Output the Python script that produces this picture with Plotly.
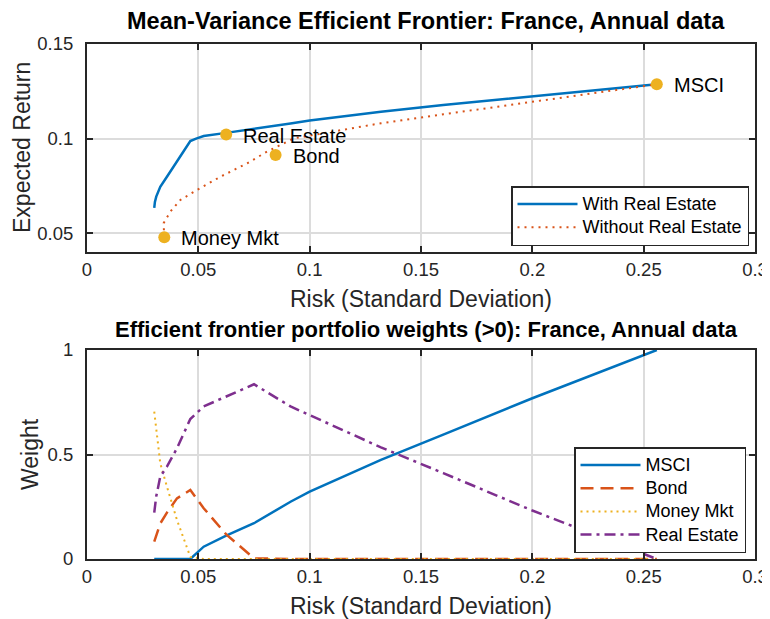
import plotly.graph_objects as go

# ---- Data ----
# Efficient frontier with real estate (risk, expected return)
frontier_risk = [0.0302, 0.0305, 0.0311, 0.0320, 0.0329, 0.0359, 0.0404, 0.0435, 0.0464,
                 0.0490, 0.0524, 0.0625, 0.075, 0.0914, 0.100, 0.132, 0.160, 0.200, 0.2559]
frontier_ret = [0.0633, 0.0665, 0.0693, 0.0722, 0.0745, 0.0798, 0.0878, 0.0932, 0.0987,
                0.1000, 0.1013, 0.1030, 0.1050, 0.1080, 0.1095, 0.1142, 0.1177, 0.1222, 0.1287]

# Portfolio weights along the frontier
weight_risk = [0.0302, 0.0311, 0.0329, 0.0359, 0.0404, 0.0464, 0.0524, 0.0625, 0.075,
               0.0914, 0.100, 0.132, 0.160, 0.200, 0.2559]
w_msci = [0.0, 0.0, 0.0, 0.0, 0.0, 0.0, 0.059, 0.112, 0.171, 0.274, 0.322, 0.474, 0.595, 0.769, 1.0]
w_bond = [0.083, 0.11, 0.17, 0.222, 0.29, 0.33, 0.243, 0.118, 0.003, 0.0, 0.0, 0.0, 0.0, 0.0, 0.0]
w_money = [0.705, 0.62, 0.458, 0.346, 0.187, 0.01, 0.0, 0.0, 0.0, 0.0, 0.0, 0.0, 0.0, 0.0, 0.0]
w_realestate = [0.222, 0.30, 0.394, 0.442, 0.53, 0.67, 0.73, 0.777, 0.836, 0.73, 0.689, 0.534, 0.411, 0.232, 0.0]

# Efficient frontier without real estate
risk_without = [0.0347, 0.0344, 0.0374, 0.0419, 0.0494, 0.0599, 0.0719, 0.0809, 0.0929,
                0.114, 0.132, 0.160, 0.200, 0.2559]
ret_without = [0.0478, 0.0552, 0.0613, 0.0675, 0.0728, 0.0798, 0.0869, 0.0931, 0.1001,
               0.1045, 0.1081, 0.1128, 0.1195, 0.1287]

# Individual assets
asset_names = ["Real Estate", "Bond", "Money Mkt", "MSCI"]
asset_risk = [0.0625, 0.0847, 0.0347, 0.2559]
asset_ret = [0.1021, 0.0913, 0.0478, 0.1287]

x_ticks = [0, 0.05, 0.1, 0.15, 0.2, 0.25, 0.3]
x_ticklabels = ["0", "0.05", "0.1", "0.15", "0.2", "0.25", "0.3"]
y1_ticks = [0.05, 0.1, 0.15]
y1_ticklabels = ["0.05", "0.1", "0.15"]
y2_ticks = [0, 0.5, 1]
y2_ticklabels = ["0", "0.5", "1"]

title_top = "Mean-Variance Efficient Frontier: France, Annual data"
title_bottom = "Efficient frontier portfolio weights (>0): France, Annual data"
xlabel = "Risk (Standard Deviation)"
ylabel_top = "Expected Return"
ylabel_bottom = "Weight"

# ---- Styles ----
BLUE = "#0072BD"
ORANGE = "#D95319"
YELLOW = "#EDB120"
PURPLE = "#7E2F8E"
AX = "#262626"
GRID = "#dcdcdc"
FONT = "Liberation Sans, Arial, Helvetica, sans-serif"


def leg(name):
    # legend rows are spaced by the legend font size; draw the text itself slightly larger
    return '<span style="font-size:18px">' + name + "</span>"


# The page body adds an 8px offset, so the figure is sized 8px smaller than the window
W, H = 762, 611

fig = go.Figure()

# Top plot
fig.add_trace(go.Scatter(x=frontier_risk, y=frontier_ret, mode="lines", name=leg("With Real Estate"),
                         line=dict(color=BLUE, width=2.5), xaxis="x", yaxis="y", legend="legend"))
fig.add_trace(go.Scatter(x=risk_without, y=ret_without, mode="lines", name=leg("Without Real Estate"),
                         line=dict(color=ORANGE, width=2, dash="2px,5px"), xaxis="x", yaxis="y",
                         legend="legend"))
fig.add_trace(go.Scatter(x=asset_risk, y=asset_ret, mode="markers", name="Assets",
                         marker=dict(color=YELLOW, size=12), showlegend=False,
                         xaxis="x", yaxis="y"))

# Bottom plot
fig.add_trace(go.Scatter(x=weight_risk, y=w_msci, mode="lines", name=leg("MSCI"),
                         line=dict(color=BLUE, width=2.5), xaxis="x2", yaxis="y2", legend="legend2"))
fig.add_trace(go.Scatter(x=weight_risk, y=w_bond, mode="lines", name=leg("Bond"),
                         line=dict(color=ORANGE, width=2.5, dash="13px,7px"), xaxis="x2", yaxis="y2",
                         legend="legend2"))
fig.add_trace(go.Scatter(x=weight_risk, y=w_money, mode="lines", name=leg("Money Mkt"),
                         line=dict(color=YELLOW, width=2, dash="2px,4px"), xaxis="x2", yaxis="y2",
                         legend="legend2"))
fig.add_trace(go.Scatter(x=weight_risk, y=w_realestate, mode="lines", name=leg("Real Estate"),
                         line=dict(color=PURPLE, width=2.5, dash="11px,5px,3px,5px"),
                         xaxis="x2", yaxis="y2", legend="legend2"))

axis_common = dict(showline=True, linecolor=AX, linewidth=2, mirror="allticks",
                   ticks="inside", ticklen=6, tickwidth=2, tickcolor=AX, automargin=False,
                   showgrid=True, gridcolor=GRID, gridwidth=1.5, zeroline=False,
                   tickfont=dict(family=FONT, size=18.5, color=AX))
title_font = dict(family=FONT, size=23, color=AX)

annotations = []
for name, xr, yr in zip(asset_names, asset_risk, asset_ret):
    annotations.append(dict(x=xr, y=yr, xref="x", yref="y", text=name, showarrow=False,
                            xanchor="left", yanchor="middle", xshift=15, yshift=-1,
                            font=dict(family=FONT, size=20, color="#000000")))
annotations.append(dict(x=0.5, y=1.0, xref="x domain", yref="y domain", text="<b>" + title_top + "</b>",
                        showarrow=False, xanchor="center", yanchor="bottom", yshift=8, xshift=5,
                        font=dict(family=FONT, size=23.5, color="#000000")))
annotations.append(dict(x=0.5, y=1.0, xref="x2 domain", yref="y2 domain", text="<b>" + title_bottom + "</b>",
                        showarrow=False, xanchor="center", yanchor="bottom", yshift=6, xshift=5,
                        font=dict(family=FONT, size=22, color="#000000")))
# y-axis titles
annotations.append(dict(x=14 / W, y=1 - 140 / H, xref="paper", yref="paper", text=ylabel_top,
                        textangle=-90, showarrow=False, xanchor="center", yanchor="middle",
                        font=title_font))
annotations.append(dict(x=22 / W, y=1 - 446 / H, xref="paper", yref="paper", text=ylabel_bottom,
                        textangle=-90, showarrow=False, xanchor="center", yanchor="middle",
                        font=title_font))

fig.update_layout(
    width=W, height=H,
    margin=dict(l=0, r=0, t=0, b=0),
    paper_bgcolor="white", plot_bgcolor="white",
    font=dict(family=FONT, color=AX),
    xaxis=dict(domain=[79 / W, 747 / W], range=[0, 0.3], tickvals=x_ticks, ticktext=x_ticklabels,
               anchor="y", title=dict(text=xlabel, font=title_font, standoff=12),
               **axis_common),
    yaxis=dict(domain=[1 - 244 / H, 1 - 36 / H], range=[0.04, 0.15], tickvals=y1_ticks,
               ticktext=y1_ticklabels, anchor="x", ticklabelstandoff=8,
               **axis_common),
    xaxis2=dict(domain=[79 / W, 747 / W], range=[0, 0.3], tickvals=x_ticks, ticktext=x_ticklabels,
                anchor="y2", title=dict(text=xlabel, font=title_font, standoff=12),
                **axis_common),
    yaxis2=dict(domain=[1 - 551 / H, 1 - 342 / H], range=[0, 1], tickvals=y2_ticks,
                ticktext=y2_ticklabels, anchor="x2", ticklabelstandoff=8,
                **axis_common),
    legend=dict(x=741 / W, y=1 - 208 / H, xanchor="right", yanchor="middle",
                bgcolor="white", bordercolor=AX, borderwidth=1.5,
                font=dict(family=FONT, size=15.5, color="#000000"), itemwidth=60,
                tracegroupgap=0),
    legend2=dict(x=738 / W, y=1 - 492 / H, xanchor="right", yanchor="middle",
                 bgcolor="white", bordercolor=AX, borderwidth=1.5,
                 font=dict(family=FONT, size=15.5, color="#000000"), itemwidth=60,
                 tracegroupgap=0),
    annotations=annotations,
    showlegend=True,
)

fig.write_html("out.html")
